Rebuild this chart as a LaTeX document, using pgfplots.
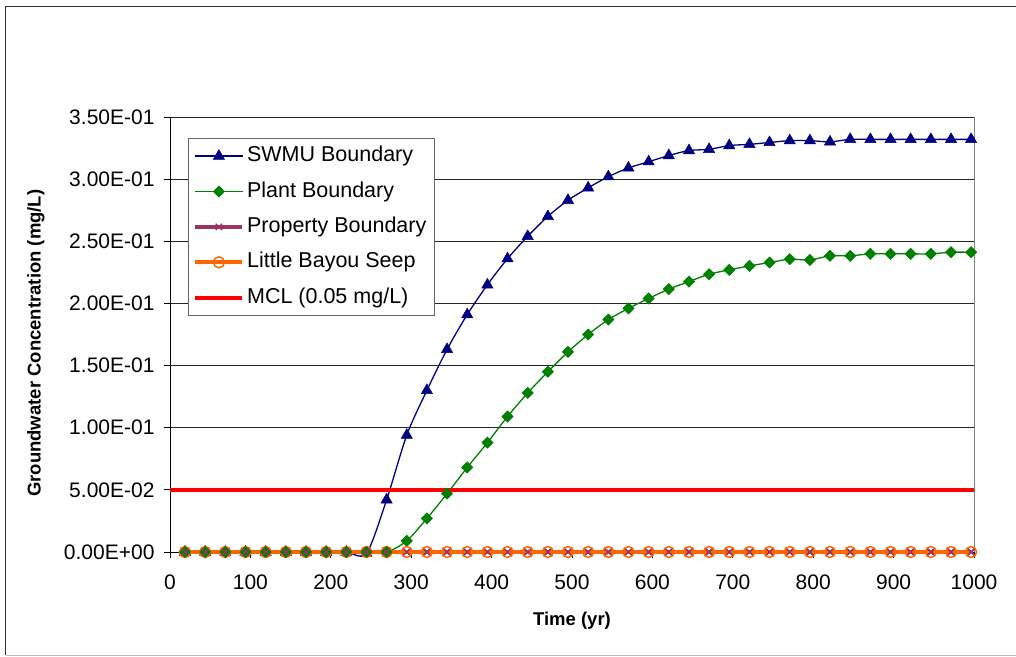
\documentclass[border=0pt]{standalone}
\usepackage{fontspec}
\setmainfont{Liberation Sans}
\usepackage{pgfplots}
\usepackage{pgfplotstable}
\pgfplotsset{compat=1.18}
\definecolor{swmu}{HTML}{000080}
\definecolor{plant}{HTML}{008000}
\definecolor{prop}{HTML}{993366}
\definecolor{seep}{HTML}{FF6600}
\definecolor{mcl}{HTML}{FF0000}
\definecolor{frame}{HTML}{333333}
\pgfplotstableread{
x swmu plant zero
18.7 0 0 0
43.8 0 0 0
68.8 0 0 0
93.9 0 0 0
119.0 0 0 0
144.1 0 0 0
169.1 0 0 0
194.2 0 0 0
219.3 0 0 0
244.3 -0.001 0 0
269.4 0.042 0 0
294.5 0.094 0.009 0
319.5 0.130 0.027 0
344.6 0.163 0.047 0
369.7 0.191 0.068 0
394.8 0.215 0.088 0
419.8 0.236 0.109 0
444.9 0.254 0.128 0
470.0 0.270 0.145 0
495.0 0.283 0.161 0
520.1 0.293 0.175 0
545.2 0.302 0.187 0
570.2 0.309 0.196 0
595.3 0.314 0.204 0
620.4 0.319 0.2115 0
645.5 0.323 0.2176 0
670.5 0.324 0.2235 0
695.6 0.327 0.227 0
720.7 0.328 0.2302 0
745.7 0.3295 0.2329 0
770.8 0.331 0.2356 0
795.9 0.331 0.235 0
820.9 0.330 0.2383 0
846.0 0.332 0.2383 0
871.1 0.332 0.2399 0
896.2 0.332 0.2399 0
921.2 0.332 0.2399 0
946.3 0.332 0.2399 0
971.4 0.332 0.2412 0
996.4 0.332 0.2412 0
}\datatable
\begin{document}
\begin{tikzpicture}
\useasboundingbox (0,0) rectangle (1016pt,656pt);
\fill[white] (0,0) rectangle (1016pt,656pt);
\draw[frame, line width=1.5pt] (5.5pt,1pt) -- (5.5pt,649.5pt) -- (1017pt,649.5pt);
\draw[black!25, line width=1pt] (5.5pt,1pt) -- (1017pt,1pt);
\begin{axis}[
  at={(170pt,104pt)}, anchor=south west,
  scale only axis, width=804pt, height=435pt,
  xmin=0, xmax=1000, ymin=0, ymax=0.35,
  clip=false,
  axis line style={draw=none},
  xtick={0,100,200,300,400,500,600,700,800,900,1000},
  xticklabels={0,100,200,300,400,500,600,700,800,900,1000},
  ytick={0,0.05,0.1,0.15,0.2,0.25,0.3,0.35},
  yticklabels={0.00E+00,5.00E-02,1.00E-01,1.50E-01,2.00E-01,2.50E-01,3.00E-01,3.50E-01},
  tick align=outside, xtick pos=bottom, ytick pos=left,
  major tick length=6pt,
  tick style={black, line width=0.8pt},
  ymajorgrids, major grid style={black!85, line width=0.8pt},
  ticklabel style={font=\fontsize{21}{25}\selectfont},
  yticklabel style={xshift=-6pt},
  xticklabel style={yshift=-13pt},
  xlabel={Time (yr)},
  ylabel={Groundwater Concentration (mg/L)},
  label style={font=\fontsize{18.5}{22}\selectfont\bfseries},
  x label style={at={(axis description cs:0.5,-0.1586)}, anchor=center},
  y label style={at={(axis description cs:-0.1667,0.48)}, anchor=center},
  legend cell align=left,
  legend style={at={(axis description cs:0.0224,0.9517)}, anchor=north west,
    draw=black!60, line width=0.8pt, fill=white,
    font=\fontsize{21.5}{25}\selectfont,
    inner xsep=5pt, inner ysep=5pt, row sep=10pt,
    nodes={inner sep=2.7pt, text height=15.5pt, text depth=4.5pt}},
  legend image code/.code={\draw[mark repeat=2,mark phase=2,#1] plot coordinates {(0pt,0pt) (23.5pt,0pt) (47pt,0pt)};},
]
\draw[black, line width=1pt] (rel axis cs:0,0) -- (rel axis cs:0,1);
\draw[black, line width=1pt] (rel axis cs:0,0) -- (rel axis cs:1,0);
\draw[black!50, line width=1pt] (rel axis cs:1,0) -- (rel axis cs:1,1);
\addplot[swmu, line width=1.3pt, smooth, mark=triangle*, mark size=6.5pt, mark options={solid, fill=swmu, line width=0.5pt}] table[x=x, y=swmu] {\datatable};
\addlegendentry{SWMU Boundary}
\addplot[plant, line width=1.3pt, smooth, mark=square*, mark size=4pt, mark options={solid, rotate=45, fill=plant, line width=0.5pt}] table[x=x, y=plant] {\datatable};
\addlegendentry{Plant Boundary}
\addplot[prop, line width=3.5pt, mark=x, mark size=4.5pt, mark options={solid, line width=1.3pt}] table[x=x, y=zero] {\datatable};
\addlegendentry{Property Boundary}
\addplot[seep, line width=4pt, mark=o, mark size=5.5pt, mark options={solid, line width=1.5pt}] table[x=x, y=zero] {\datatable};
\addlegendentry{Little Bayou Seep}
\addplot[mcl, line width=4pt] coordinates {(0,0.05) (1000,0.05)};
\addlegendentry{MCL (0.05 mg/L)}
\addplot[forget plot, only marks, mark=square*, mark size=4pt, plant, mark options={rotate=45, fill=plant, line width=0.5pt}] coordinates {(18.7,0) (43.8,0) (68.8,0) (93.9,0) (119.0,0) (144.1,0) (169.1,0) (194.2,0) (219.3,0) (244.3,0) (269.4,0)};
\addplot[forget plot, only marks, mark=x, mark size=4.5pt, prop, mark options={line width=1.3pt}] table[x=x, y=zero] {\datatable};
\end{axis}
\end{tikzpicture}
\end{document}
